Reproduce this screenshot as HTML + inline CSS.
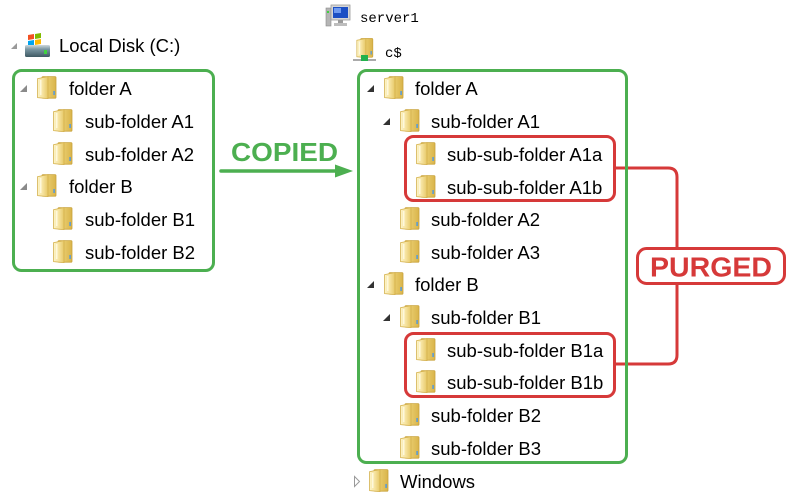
<!DOCTYPE html>
<html><head><meta charset="utf-8"><style>
html,body{margin:0;padding:0;background:#fff;}
svg{display:block;}
text{font-family:"Liberation Sans",Arial,sans-serif;}
</style></head><body>
<svg width="797" height="498" viewBox="0 0 797 498" xmlns="http://www.w3.org/2000/svg">
<defs>
<linearGradient id="gb" x1="0" y1="0" x2="1" y2="0"><stop offset="0" stop-color="#f2da82"/><stop offset="1" stop-color="#d9b44a"/></linearGradient>
<linearGradient id="gf" x1="0" y1="0" x2="1" y2="0"><stop offset="0" stop-color="#fdf4c8"/><stop offset="0.5" stop-color="#f6e3a0"/><stop offset="1" stop-color="#e6c866"/></linearGradient>
<linearGradient id="gd" x1="0" y1="0" x2="0" y2="1"><stop offset="0" stop-color="#cfd8dc"/><stop offset="0.35" stop-color="#7b97a3"/><stop offset="1" stop-color="#3e5963"/></linearGradient>
<symbol id="f" viewBox="0 0 20 23">
<rect x="5" y="0.6" width="14" height="21.6" rx="1" fill="url(#gb)" stroke="#c9a33c" stroke-width="0.8"/>
<path d="M0.6,2.6 L11,0.6 L11,22.6 L0.6,21.6 Z" fill="url(#gf)" stroke="#d4b04a" stroke-width="0.8"/>
<rect x="3" y="4" width="1.5" height="15" fill="#fffbe6" opacity="0.8"/>
<rect x="16.3" y="15" width="1.6" height="4" fill="#5b9bd5"/>
</symbol>
</defs>

<!-- Local Disk header -->
<polygon points="17,43 17,49 11,49" fill="#9a9a9a"/>
<g>
<polygon points="28,35 34,34 34,39 28,40" fill="#f25022"/>
<polygon points="35,34 41,33 41,38 35,39" fill="#7fba00"/>
<polygon points="28,41 34,40 34,45 28,46" fill="#00a4ef"/>
<polygon points="35,40 41,39 41,44 35,45" fill="#ffb900"/>
<rect x="25" y="45" width="25" height="12" rx="1.5" fill="url(#gd)"/>
<rect x="44" y="50" width="3" height="4" fill="#3fd23f"/>
</g>
<text x="59" y="52" font-size="18.5" fill="#000">Local Disk (C:)</text>

<!-- server1 header -->
<g>
<rect x="326" y="8" width="5" height="18" fill="#b5b5b5" stroke="#8a8a8a" stroke-width="0.6"/>
<rect x="327" y="11" width="2" height="2" fill="#3fd23f"/>
<rect x="331" y="5" width="19" height="15" fill="#d6d6d6" stroke="#9a9a9a" stroke-width="0.8"/>
<rect x="333" y="7" width="15" height="11" fill="#1c4fc4"/>
<rect x="334" y="8" width="7" height="5" fill="#6f9af0"/>
<rect x="338" y="20" width="5" height="3" fill="#9a9a9a"/>
<rect x="334" y="23" width="13" height="3" fill="#bdbdbd"/>
</g>
<text x="360" y="22" font-size="14" fill="#000" style="font-family:'Liberation Mono',monospace">server1</text>

<!-- c$ header -->
<use href="#f" x="356" y="38" width="18" height="20"/>
<rect x="353" y="59" width="23" height="2" fill="#aaaaaa"/>
<rect x="361" y="55" width="7" height="6" fill="#22b14c"/>
<text x="385" y="57" font-size="14" fill="#000" style="font-family:'Liberation Mono',monospace">c$</text>

<!-- COPIED arrow -->
<text x="231" y="161" font-size="26" font-weight="bold" fill="#4caf50" textLength="107" lengthAdjust="spacingAndGlyphs">COPIED</text>
<line x1="221" y1="171" x2="338" y2="171" stroke="#4caf50" stroke-width="3.5" stroke-linecap="round"/>
<polygon points="335,164.5 353,171 335,177.5" fill="#4caf50"/>

<!-- Red connector -->
<path d="M615,168 H668 Q677,168 677,177 V248 M677,284 V355 Q677,364 668,364 H615" fill="none" stroke="#d63939" stroke-width="3"/>
<rect x="637.5" y="248.5" width="147" height="35" rx="9" fill="#fff" stroke="#d63939" stroke-width="3"/>
<text x="711" y="276.5" font-size="28" font-weight="bold" fill="#d63939" text-anchor="middle" textLength="122" lengthAdjust="spacingAndGlyphs">PURGED</text>

<!-- Green boxes -->
<rect x="13.5" y="70.5" width="200" height="200" rx="8" fill="none" stroke="#4caf50" stroke-width="3"/>
<rect x="358.5" y="70.5" width="268" height="392" rx="8" fill="none" stroke="#4caf50" stroke-width="3"/>

<!-- Red boxes -->
<rect x="405.5" y="136.5" width="209" height="64" rx="8" fill="none" stroke="#d63939" stroke-width="3"/>
<rect x="405.5" y="333.5" width="209" height="63" rx="8" fill="none" stroke="#d63939" stroke-width="3"/>

<!-- Left tree -->
<g font-size="18.5" fill="#000">
<polygon points="27,85 27,92 20,92" fill="#8a8a8a"/>
<use href="#f" x="37" y="76" width="20" height="23"/>
<text x="69" y="95">folder A</text>
<use href="#f" x="53" y="109" width="20" height="23"/>
<text x="85" y="128">sub-folder A1</text>
<use href="#f" x="53" y="142" width="20" height="23"/>
<text x="85" y="161">sub-folder A2</text>
<polygon points="27,183 27,190 20,190" fill="#8a8a8a"/>
<use href="#f" x="37" y="174" width="20" height="23"/>
<text x="69" y="193">folder B</text>
<use href="#f" x="53" y="207" width="20" height="23"/>
<text x="85" y="226">sub-folder B1</text>
<use href="#f" x="53" y="240" width="20" height="23"/>
<text x="85" y="259">sub-folder B2</text>
</g>

<!-- Right tree -->
<g font-size="18.5" fill="#000">
<polygon points="374,85 374,92 367,92" fill="#333"/>
<use href="#f" x="384" y="76" width="20" height="23"/>
<text x="415" y="95">folder A</text>

<polygon points="390,118 390,125 383,125" fill="#333"/>
<use href="#f" x="400" y="109" width="20" height="23"/>
<text x="431" y="128">sub-folder A1</text>

<use href="#f" x="416" y="142" width="20" height="23"/>
<text x="447" y="161">sub-sub-folder A1a</text>
<use href="#f" x="416" y="175" width="20" height="23"/>
<text x="447" y="194">sub-sub-folder A1b</text>

<use href="#f" x="400" y="207" width="20" height="23"/>
<text x="431" y="226">sub-folder A2</text>
<use href="#f" x="400" y="240" width="20" height="23"/>
<text x="431" y="259">sub-folder A3</text>

<polygon points="374,281 374,288 367,288" fill="#333"/>
<use href="#f" x="384" y="272" width="20" height="23"/>
<text x="415" y="291">folder B</text>

<polygon points="390,314 390,321 383,321" fill="#333"/>
<use href="#f" x="400" y="305" width="20" height="23"/>
<text x="431" y="324">sub-folder B1</text>

<use href="#f" x="416" y="338" width="20" height="23"/>
<text x="447" y="357">sub-sub-folder B1a</text>
<use href="#f" x="416" y="370" width="20" height="23"/>
<text x="447" y="389">sub-sub-folder B1b</text>

<use href="#f" x="400" y="403" width="20" height="23"/>
<text x="431" y="422">sub-folder B2</text>
<use href="#f" x="400" y="436" width="20" height="23"/>
<text x="431" y="455">sub-folder B3</text>

<polygon points="354.5,476.5 354.5,486.5 359.5,481.5" fill="#fff" stroke="#9a9a9a" stroke-width="1"/>
<use href="#f" x="369" y="469" width="20" height="23"/>
<text x="400" y="488">Windows</text>
</g>
</svg>
</body></html>
